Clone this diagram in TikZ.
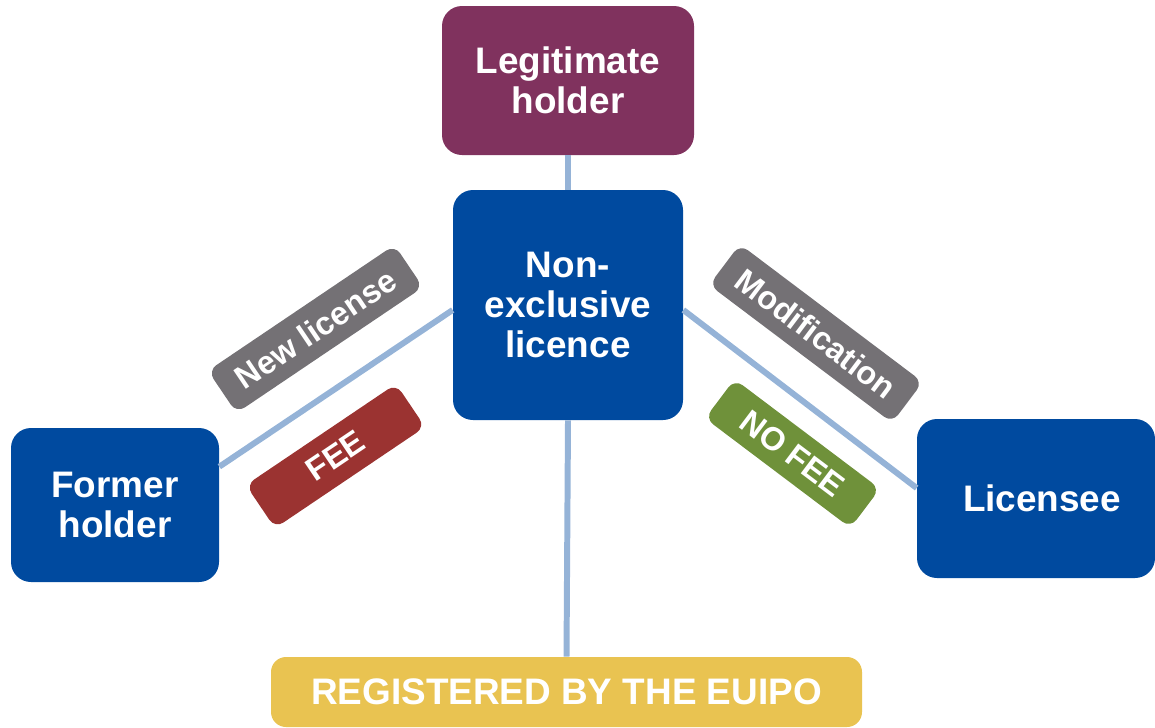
\documentclass[tikz,border=0pt]{standalone}
\usepackage{fontspec}
\setmainfont{Liberation Sans}
\usetikzlibrary{calc}
\definecolor{cblue}{HTML}{004A9F}
\definecolor{cpurple}{HTML}{80325E}
\definecolor{cgray}{HTML}{747175}
\definecolor{cred}{HTML}{9B3331}
\definecolor{cgreen}{HTML}{6F913A}
\definecolor{cyellow}{HTML}{E9C351}
\definecolor{cline}{HTML}{95B3D7}
\tikzset{
  mainbox/.style={fill=cblue, rounded corners=0.4cm, text=white, align=center,
    font=\bfseries\fontsize{21}{22.7}\selectfont, inner sep=0pt},
  tagbox/.style={rounded corners=0.2cm, text=white, align=center,
    font=\bfseries\fontsize{18.5}{21}\selectfont, inner sep=0pt},
  link/.style={draw=cline, line width=3.4pt}
}
\begin{document}
\begin{tikzpicture}
\useasboundingbox (0,0) rectangle (23.1,-14.54);
\node[mainbox, fill=cpurple, minimum width=5.04cm, minimum height=2.98cm] (lh) at (11.36,-1.61) {Legitimate\\holder};
\node[mainbox, minimum width=4.6cm, minimum height=4.6cm] (ne) at (11.36,-6.10) {Non-\\exclusive\\licence};
\node[mainbox, minimum width=4.16cm, minimum height=3.08cm] (fh) at (2.30,-10.10) {Former\\holder};
\node[mainbox, minimum width=4.76cm, minimum height=3.18cm] (li) at (20.72,-9.97) {\hspace*{0.24cm}Licensee};
\node[mainbox, fill=cyellow, minimum width=11.82cm, minimum height=1.40cm, rounded corners=0.3cm] (reg) at (11.33,-13.84)
  {REGISTERED BY THE EUIPO};

\node[tagbox, fill=cgray, rotate=34, minimum width=4.5cm, minimum height=1.02cm] (nl) at (6.31,-6.58) {New license};
\node[tagbox, fill=cred, rotate=34, minimum width=3.62cm, minimum height=1.04cm] (fee) at (6.71,-9.12) {FEE};
\node[tagbox, fill=cgray, rotate=-37, minimum width=4.58cm, minimum height=1.02cm] (mod) at (16.32,-6.67) {Modification};
\node[tagbox, fill=cgreen, rotate=-37, minimum width=3.64cm, minimum height=0.98cm] (nofee) at (15.85,-9.07) {NO FEE};

\draw[link] (lh.south) -- (ne.north);
\draw[link] (ne.south) -- (reg.north);
\draw[link] ($(fh.north east)+(0,-0.78)$) -- ($(ne.west)+(0,-0.1)$);
\draw[link] ($(ne.east)+(0,-0.1)$) -- ($(li.west)+(0,0.21)$);
\end{tikzpicture}
\end{document}
